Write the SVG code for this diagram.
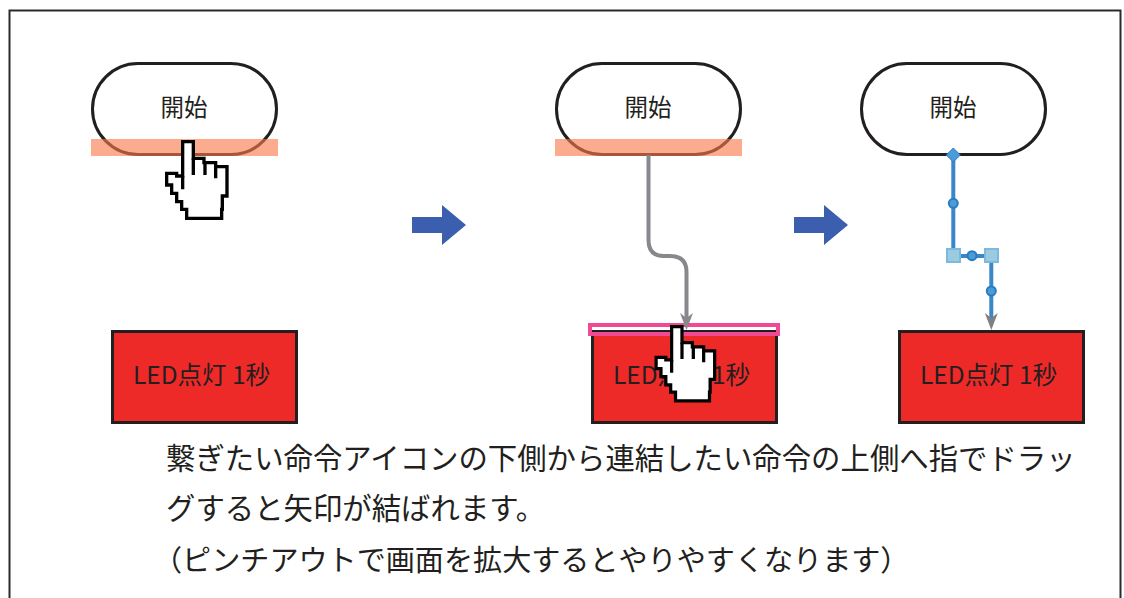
<svg xmlns="http://www.w3.org/2000/svg" width="1124" height="598" viewBox="0 0 1124 598">
<style>
text{font-family:"Noto Sans CJK JP","Noto Sans",sans-serif;fill:#231f20}
.lbl{font-size:23.5px;text-anchor:middle}
.led{font-size:24.5px;text-anchor:middle}
.body{font-size:29.4px}
.pill{fill:#fff;stroke:#231f20;stroke-width:3}
.red{fill:#ee2a29;stroke:#231f20;stroke-width:3}
.band{fill:#f9794a;opacity:.62}
.blue{fill:none;stroke:#3a87c8;stroke-width:4}
.gray{fill:none;stroke:#87888c;stroke-width:4}
.dot{fill:#4a9bd6;stroke:#2a7cc0;stroke-width:2}
.sq{fill:#9ccbe0;stroke:#7cb9e0;stroke-width:2}
</style>
<defs>
<g id="hand">
<path d="M308 275H340V325H372V338H407V350H441V438H427V478H425V505H320V478H305V455H290V430H275V405H260V370H290V378H308Z" fill="#fff" stroke="#000" stroke-width="10"/>
<path d="M308 378V418M340 325V375M375 338V375M407 350V385" fill="none" stroke="#000" stroke-width="10"/>
</g>
<path id="go" d="M412 217H442V205L466 225L442 245V233H412Z" fill="#3b5fae"/>
<path id="head" d="M-6.500 0L0 5L6.500 0L0 17Z"/>
</defs>
<rect id="frame" x="9.500" y="10.500" width="1111" height="600" fill="#fff" stroke="#2b2b2b" stroke-width="2"/>
<g id="node-start-1"><rect class="pill" x="92.500" y="63.500" width="184" height="91" rx="45.500"/><text class="lbl" x="184" y="116">開始</text></g>
<g id="node-led-1"><rect class="red" x="112.500" y="331.500" width="184" height="91"/><text class="led" x="201.500" y="384">LED点灯 1秒</text></g>
<g id="node-start-2"><rect class="pill" x="556.500" y="63.500" width="184" height="91" rx="45.500"/><text class="lbl" x="648" y="116">開始</text></g>
<g id="node-led-2"><rect class="red" x="592.500" y="331.500" width="184" height="91"/><text class="led" x="681.500" y="384">LED点灯 1秒</text></g>
<g id="node-start-3"><rect class="pill" x="861.500" y="63.500" width="184" height="91" rx="45.500"/><text class="lbl" x="953" y="116">開始</text></g>
<g id="node-led-3"><rect class="red" x="899.500" y="331.500" width="184" height="91"/><text class="led" x="988.500" y="384">LED点灯 1秒</text></g>
<rect class="band" x="91" y="139" width="187" height="17"/>
<rect class="band" x="555" y="139" width="187" height="17"/>
<rect x="590" y="325" width="188" height="9" fill="none" stroke="#ef4a93" stroke-width="4"/>
<rect x="592" y="327" width="184" height="3" fill="#fff"/>
<rect x="592" y="330" width="184" height="2" fill="#231f20"/>
<g id="connectors">
<path class="gray" d="M648.500 155V240Q648.500 256 664 256H670Q686.500 256 686.500 272V318"/>
<use href="#head" x="686.500" y="313" fill="#87888c"/>
<path class="blue" d="M953.300 155V256H991.300V318"/>
<use href="#head" x="991.300" y="313" fill="#7f8084"/>
</g>
<use href="#hand" transform="translate(80 50) scale(.3333)"/>
<use href="#hand" transform="translate(572 237.600) scale(.3235)"/>
<use href="#go"/>
<use href="#go" x="382"/>
<g id="handles">
<path d="M953.300 148L960.300 155L953.300 162L946.300 155Z" fill="#4a9bd6" stroke="#2a7cc0"/>
<circle class="dot" cx="953.300" cy="203.300" r="4.500"/>
<circle class="dot" cx="972" cy="255.700" r="4.500"/>
<circle class="dot" cx="991.300" cy="291" r="4.500"/>
<rect class="sq" x="947" y="249" width="13" height="13"/>
<rect class="sq" x="985" y="249" width="13" height="13"/>
</g>
<g id="caption">
<text class="body" x="166" y="469">繋ぎたい命令アイコンの下側から連結したい命令の上側へ指でドラッ</text>
<text class="body" x="166" y="519">グすると矢印が結ばれます。</text>
<text class="body" x="153" y="571" style="font-size:29.1px">（ピンチアウトで画面を拡大するとやりやすくなります）</text>
</g>
</svg>
